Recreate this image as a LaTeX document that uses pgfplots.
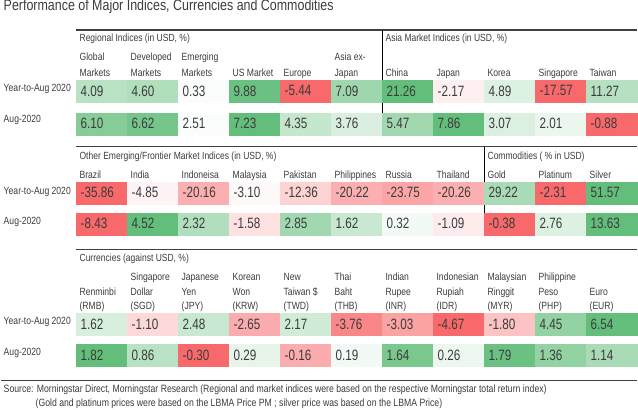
\documentclass[border=0pt]{standalone}
\usepackage{pgfplots}
\pgfplotsset{compat=1.18}
\usepackage{pgfplotstable}
\usepackage{fontspec}
\setmainfont{Liberation Sans}[FakeStretch=0.82]
\newfontfamily\valfont{Liberation Sans}[FakeStretch=0.78]
\definecolor{txt}{HTML}{3C3C3C}
\definecolor{rulec}{HTML}{404040}

% Regional + Asia indices
\pgfplotstableread{
col y c v
0 97 0.45 4.09
1 97 0.50 4.60
2 97 0.03 0.33
3 97 0.95 9.88
4 97 -1 -5.44
5 97 0.62 7.09
6 97 1 21.26
7 97 -0.10 -2.17
8 97 0.22 4.89
9 97 -1 -17.57
10 97 0.47 11.27
0 130 0.78 6.10
1 130 0.88 6.62
2 130 0.03 2.51
3 130 1 7.23
4 130 0.37 4.35
5 130 0.24 3.76
6 130 0.60 5.47
7 130 1 7.86
8 130 0.23 3.07
9 130 0.13 2.01
10 130 -1 -0.88
}\sone

% Other EM/frontier + commodities
\pgfplotstableread{
col y c v
0 199 -1 -35.86
1 199 -0.07 -4.85
2 199 -0.53 -20.16
3 199 -0.03 -3.10
4 199 -0.29 -12.36
5 199 -0.53 -20.22
6 199 -0.60 -23.75
7 199 -0.53 -20.26
8 199 0.55 29.22
9 199 -1 -2.31
10 199 1 51.57
0 230 -1 -8.43
1 230 1 4.52
2 230 0.50 2.32
3 230 -0.20 -1.58
4 230 0.60 2.85
5 230 0.35 1.62
6 230 0.08 0.32
7 230 -0.13 -1.09
8 230 -1 -0.38
9 230 0.22 2.76
10 230 1 13.63
}\stwo

% Currencies
\pgfplotstableread{
col y c v
0 331 0.25 1.62
1 331 -0.25 -1.10
2 331 0.35 2.48
3 331 -0.55 -2.65
4 331 0.30 2.17
5 331 -0.80 -3.76
6 331 -0.62 -3.03
7 331 -1 -4.67
8 331 -0.40 -1.80
9 331 0.70 4.45
10 331 1 6.54
0 362 1 1.82
1 362 0.45 0.86
2 362 -1 -0.30
3 362 0.15 0.29
4 362 -0.55 -0.16
5 362 0.08 0.19
6 362 0.85 1.64
7 362 0.12 0.26
8 362 0.95 1.79
9 362 0.70 1.36
10 362 0.55 1.14
}\sthree

\pgfplotsset{
  myheat/.style={scatter, only marks, mark=square*, mark size=11pt,
    point meta=\thisrow{c},
    scatter/use mapped color={draw=mapped color, fill=mapped color},
    mark options={xscale=2.3227, line width=0.2pt}},
  mytext/.style={only marks, mark=none, point meta=explicit symbolic,
    nodes near coords,
    every node near coord/.append style={anchor=west, xshift=-21.5pt, inner sep=0pt,
      text=txt, font=\valfont\fontsize{15}{15}\selectfont}},
}
\tikzset{
  hdr/.style={anchor=base west, inner sep=0pt, text=txt, font=\fontsize{10.5}{12}\selectfont},
  sec/.style={anchor=base west, inner sep=0pt, text=txt, font=\fontsize{10.4}{12}\selectfont},
}

\begin{document}
\begin{tikzpicture}
\begin{axis}[
  width=638pt, height=418pt, scale only axis,
  xmin=0, xmax=638, ymin=0, ymax=418, y dir=reverse,
  hide axis, clip=false,
  colormap={rg}{rgb255=(248,105,107) rgb255=(255,255,255) rgb255=(99,190,123)},
  point meta min=-1, point meta max=1,
]
\addplot[myheat] table[x expr={76+51.09*(\thisrow{col}+0.5)}, y=y]{\sone};
\addplot[myheat] table[x expr={76+51.09*(\thisrow{col}+0.5)}, y=y]{\stwo};
\addplot[myheat] table[x expr={76+51.09*(\thisrow{col}+0.5)}, y=y]{\sthree};
\addplot[mytext] table[x expr={76+51.09*(\thisrow{col}+0.5)}, y=y, meta=v]{\sone};
\addplot[mytext] table[x expr={76+51.09*(\thisrow{col}+0.5)}, y=y, meta=v]{\stwo};
\addplot[mytext] table[x expr={76+51.09*(\thisrow{col}+0.5)}, y=y, meta=v]{\sthree};

% title
\node[anchor=base west, inner sep=0pt, text=txt, font=\fontsize{15.2}{16}\selectfont] at (axis cs:3,17) {Performance of Major Indices, Currencies and Commodities};

% rules
\draw[rulec, line width=1.1pt] (axis cs:76,36) -- (axis cs:638,36);
\draw[black, line width=1.2pt] (axis cs:382.5,36) -- (axis cs:382.5,141);
\draw[rulec, line width=1.1pt] (axis cs:76,153) -- (axis cs:638,153);
\draw[black, line width=1.2pt] (axis cs:484.7,153) -- (axis cs:484.7,241);
\draw[rulec, line width=1.1pt] (axis cs:76,256) -- (axis cs:638,256);
\draw[rulec, line width=1.1pt] (axis cs:0,387) -- (axis cs:638,387);

% section labels
\node[sec] at (axis cs:79,47.5) {Regional Indices (in USD, \%)};
\node[sec] at (axis cs:385.5,47.5) {Asia Market Indices (in USD, \%)};
\node[sec] at (axis cs:79,165.5) {Other Emerging/Frontier Market Indices (in USD, \%)};
\node[sec] at (axis cs:487.7,165.5) {Commodities ( \% in USD)};
\node[sec] at (axis cs:79,267.5) {Currencies (against USD, \%)};

% row labels
\node[hdr] at (axis cs:3,98) {Year-to-Aug 2020};
\node[hdr] at (axis cs:3,129) {Aug-2020};
\node[hdr] at (axis cs:3,200.5) {Year-to-Aug 2020};
\node[hdr] at (axis cs:3,230.5) {Aug-2020};
\node[hdr] at (axis cs:3,331.5) {Year-to-Aug 2020};
\node[hdr] at (axis cs:3,362.5) {Aug-2020};

% section 1 headers
\node[hdr] at (axis cs:79,66.5) {Global};
\node[hdr] at (axis cs:79,82.5) {Markets};
\node[hdr] at (axis cs:130.1,66.5) {Developed};
\node[hdr] at (axis cs:130.1,82.5) {Markets};
\node[hdr] at (axis cs:181.2,66.5) {Emerging};
\node[hdr] at (axis cs:181.2,82.5) {Markets};
\node[hdr] at (axis cs:232.3,82.5) {US Market};
\node[hdr] at (axis cs:283.4,82.5) {Europe};
\node[hdr] at (axis cs:334.5,66.5) {Asia ex-};
\node[hdr] at (axis cs:334.5,82.5) {Japan};
\node[hdr] at (axis cs:385.5,82.5) {China};
\node[hdr] at (axis cs:436.6,82.5) {Japan};
\node[hdr] at (axis cs:487.7,82.5) {Korea};
\node[hdr] at (axis cs:538.8,82.5) {Singapore};
\node[hdr] at (axis cs:589.9,82.5) {Taiwan};

% section 2 headers
\node[hdr] at (axis cs:79,184.5) {Brazil};
\node[hdr] at (axis cs:130.1,184.5) {India};
\node[hdr] at (axis cs:181.2,184.5) {Indoneisa};
\node[hdr] at (axis cs:232.3,184.5) {Malaysia};
\node[hdr] at (axis cs:283.4,184.5) {Pakistan};
\node[hdr] at (axis cs:334.5,184.5) {Philippines};
\node[hdr] at (axis cs:385.5,184.5) {Russia};
\node[hdr] at (axis cs:436.6,184.5) {Thailand};
\node[hdr] at (axis cs:487.7,184.5) {Gold};
\node[hdr] at (axis cs:538.8,184.5) {Platinum};
\node[hdr] at (axis cs:589.9,184.5) {Silver};

% section 3 headers
\node[hdr] at (axis cs:79,301.5) {Renminbi};
\node[hdr] at (axis cs:79,316.5) {(RMB)};
\node[hdr] at (axis cs:130.1,286.5) {Singapore};
\node[hdr] at (axis cs:130.1,301.5) {Dollar};
\node[hdr] at (axis cs:130.1,316.5) {(SGD)};
\node[hdr] at (axis cs:181.2,286.5) {Japanese};
\node[hdr] at (axis cs:181.2,301.5) {Yen};
\node[hdr] at (axis cs:181.2,316.5) {(JPY)};
\node[hdr] at (axis cs:232.3,286.5) {Korean};
\node[hdr] at (axis cs:232.3,301.5) {Won};
\node[hdr] at (axis cs:232.3,316.5) {(KRW)};
\node[hdr] at (axis cs:283.4,286.5) {New};
\node[hdr] at (axis cs:283.4,301.5) {Taiwan \$};
\node[hdr] at (axis cs:283.4,316.5) {(TWD)};
\node[hdr] at (axis cs:334.5,286.5) {Thai};
\node[hdr] at (axis cs:334.5,301.5) {Baht};
\node[hdr] at (axis cs:334.5,316.5) {(THB)};
\node[hdr] at (axis cs:385.5,286.5) {Indian};
\node[hdr] at (axis cs:385.5,301.5) {Rupee};
\node[hdr] at (axis cs:385.5,316.5) {(INR)};
\node[hdr] at (axis cs:436.6,286.5) {Indonesian};
\node[hdr] at (axis cs:436.6,301.5) {Rupiah};
\node[hdr] at (axis cs:436.6,316.5) {(IDR)};
\node[hdr] at (axis cs:487.7,286.5) {Malaysian};
\node[hdr] at (axis cs:487.7,301.5) {Ringgit};
\node[hdr] at (axis cs:487.7,316.5) {(MYR)};
\node[hdr] at (axis cs:538.8,286.5) {Philippine};
\node[hdr] at (axis cs:538.8,301.5) {Peso};
\node[hdr] at (axis cs:538.8,316.5) {(PHP)};
\node[hdr] at (axis cs:589.9,301.5) {Euro};
\node[hdr] at (axis cs:589.9,316.5) {(EUR)};

% source
\node[anchor=base west, inner sep=0pt, text=txt, font=\fontsize{10.6}{12}\selectfont] at (axis cs:3,399.5) {Source: Morningstar Direct, Morningstar Research (Regional and market indices were based on the respective Morningstar total return index)};
\node[anchor=base west, inner sep=0pt, text=txt, font=\fontsize{10.6}{12}\selectfont] at (axis cs:35,413.5) {(Gold and platinum prices were based on the LBMA Price PM ; silver price was based on the LBMA Price)};
\end{axis}
\end{tikzpicture}
\end{document}
